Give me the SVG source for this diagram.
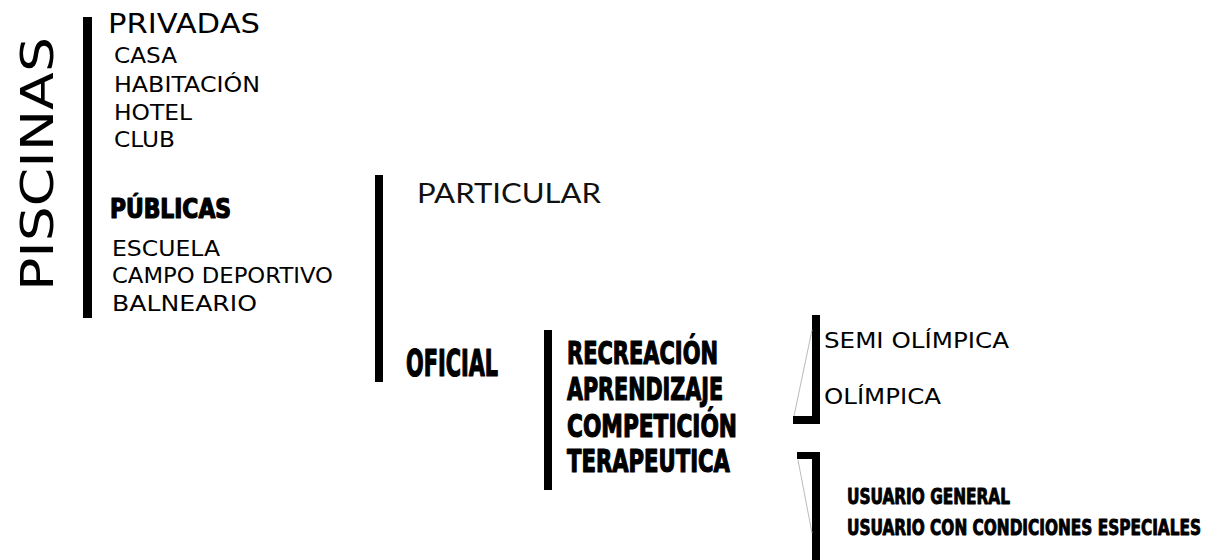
<svg xmlns="http://www.w3.org/2000/svg" width="1210" height="560" viewBox="0 0 1210 560">
<style>
  .reg { font-family: "DejaVu Sans", "Liberation Sans", sans-serif; fill: #000; }
  .geo { font-family: "Lato", "DejaVu Sans", sans-serif; fill: #111; }
  .imp { font-family: "Liberation Sans Narrow", "DejaVu Sans Condensed", "DejaVu Sans", sans-serif; font-weight: bold; font-stretch: condensed; fill: #000; stroke: #000; stroke-width: 1.2; stroke-linejoin: round; }
  .imps { stroke-width: 0.9; }
  .bar { fill: #000; }
  .thin { stroke: #bbb; stroke-width: 1; fill: none; }
</style>
<rect width="1210" height="560" fill="#fff"/>
<g id="connectors">
  <rect class="bar" x="83" y="17" width="9" height="301"/>
  <rect class="bar" x="375" y="175" width="8" height="207"/>
  <rect class="bar" x="544" y="330" width="8" height="160"/>
  <rect class="bar" x="812" y="315" width="8" height="109"/>
  <rect class="bar" x="793" y="416" width="27" height="8"/>
  <line class="thin" x1="794" y1="416" x2="812" y2="330"/>
  <rect class="bar" x="797" y="452" width="23" height="7"/>
  <rect class="bar" x="812" y="452" width="8" height="108"/>
  <line class="thin" x1="798" y1="460" x2="812" y2="533"/>
</g>
<g id="piscinas">
  <text class="reg" transform="translate(53,291) rotate(-90)" font-size="45" textLength="254" lengthAdjust="spacingAndGlyphs">PISCINAS</text>
</g>
<g id="privadas">
  <text class="reg" x="108" y="33" font-size="26" textLength="152" lengthAdjust="spacingAndGlyphs">PRIVADAS</text>
  <text class="reg" x="114" y="63" font-size="21" textLength="63" lengthAdjust="spacingAndGlyphs">CASA</text>
  <text class="reg" x="114" y="92" font-size="21" textLength="146" lengthAdjust="spacingAndGlyphs">HABITACIÓN</text>
  <text class="reg" x="114" y="120" font-size="21" textLength="78" lengthAdjust="spacingAndGlyphs">HOTEL</text>
  <text class="reg" x="114" y="147" font-size="21" textLength="61" lengthAdjust="spacingAndGlyphs">CLUB</text>
</g>
<g id="publicas">
  <text class="imp" x="110" y="218" font-size="26" textLength="121" lengthAdjust="spacingAndGlyphs">PÚBLICAS</text>
  <text class="reg" x="112" y="256" font-size="21" textLength="108" lengthAdjust="spacingAndGlyphs">ESCUELA</text>
  <text class="reg" x="112" y="283" font-size="21" textLength="221" lengthAdjust="spacingAndGlyphs">CAMPO DEPORTIVO</text>
  <text class="reg" x="112" y="311" font-size="21" textLength="145" lengthAdjust="spacingAndGlyphs">BALNEARIO</text>
</g>
<g id="particular">
  <text class="geo" x="417" y="203" font-size="27" textLength="184" lengthAdjust="spacingAndGlyphs">PARTICULAR</text>
</g>
<g id="oficial">
  <text class="imp" x="406" y="376" font-size="37" textLength="92" lengthAdjust="spacingAndGlyphs">OFICIAL</text>
</g>
<g id="usos">
  <text class="imp" x="567" y="364" font-size="32" textLength="151" lengthAdjust="spacingAndGlyphs">RECREACIÓN</text>
  <text class="imp" x="567" y="400" font-size="32" textLength="156" lengthAdjust="spacingAndGlyphs">APRENDIZAJE</text>
  <text class="imp" x="567" y="437" font-size="32" textLength="170" lengthAdjust="spacingAndGlyphs">COMPETICIÓN</text>
  <text class="imp" x="567" y="472" font-size="32" textLength="163" lengthAdjust="spacingAndGlyphs">TERAPEUTICA</text>
</g>
<g id="competicion">
  <text class="reg" x="824" y="348" font-size="22" textLength="185" lengthAdjust="spacingAndGlyphs">SEMI OLÍMPICA</text>
  <text class="reg" x="824" y="404" font-size="22" textLength="117" lengthAdjust="spacingAndGlyphs">OLÍMPICA</text>
</g>
<g id="terapeutica">
  <text class="imp imps" x="847" y="504" font-size="21" textLength="163" lengthAdjust="spacingAndGlyphs">USUARIO GENERAL</text>
  <text class="imp imps" x="847" y="535" font-size="21" textLength="354" lengthAdjust="spacingAndGlyphs">USUARIO CON CONDICIONES ESPECIALES</text>
</g>
</svg>
